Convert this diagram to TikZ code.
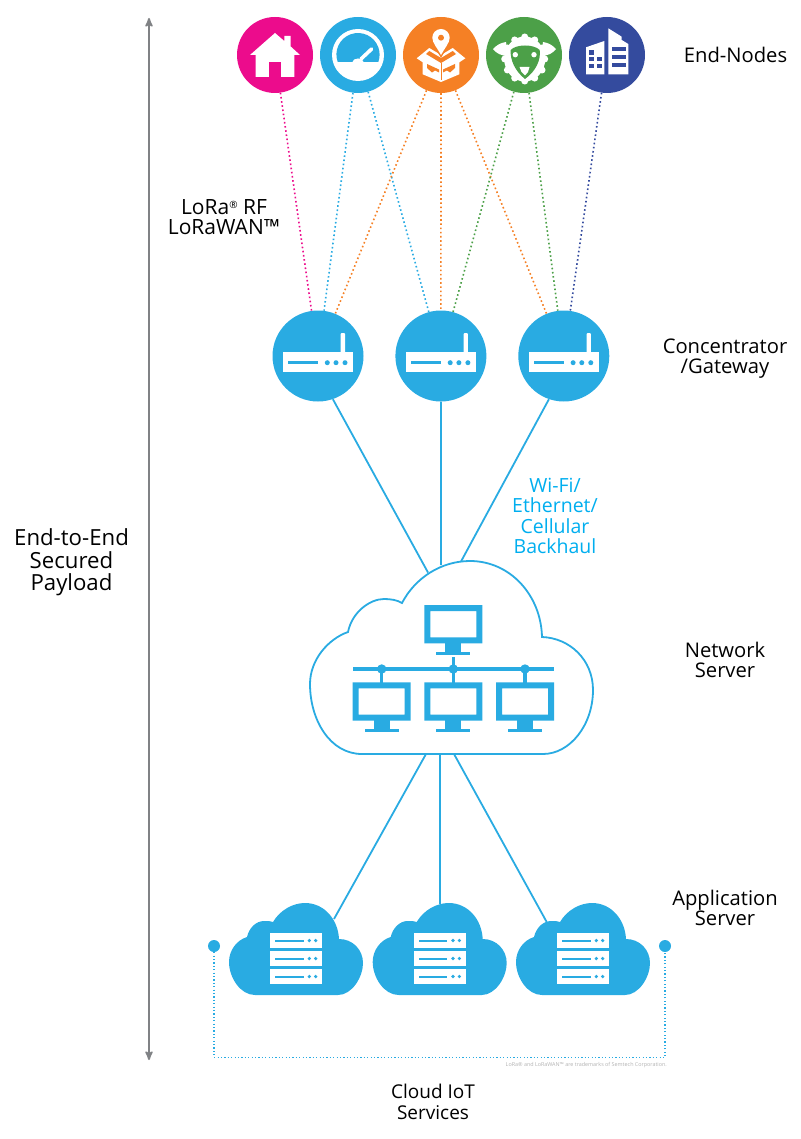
\documentclass[tikz,border=0pt]{standalone}
\usepackage{fontspec}
\setmainfont{Open Sans}
\usetikzlibrary{arrows,positioning}

\definecolor{loraBlue}{HTML}{29ABE2}
\definecolor{loraPink}{HTML}{EC0C8C}
\definecolor{loraOrange}{HTML}{F58025}
\definecolor{loraGreen}{HTML}{4CA048}
\definecolor{loraNavy}{HTML}{344B9E}
\definecolor{loraCyan}{HTML}{00AEEF}
\definecolor{loraGrey}{HTML}{808285}

\tikzset{
  pics/houseicon/.style={code={
    \fill[white] (0,-22) -- (9.3,-14) -- (9.3,-19) -- (15.7,-19) -- (15.7,-8.5) -- (25,0)
      -- (19.3,0) -- (19.3,22) -- (-19.3,22) -- (-19.3,0) -- (-25,0) -- cycle;
    \fill[loraPink] (-6,6.7) rectangle (6,22);
  }},
  pics/gaugeicon/.style={code={
    \fill[white] (0,0) circle (26);
    \fill[loraBlue] (-20.3,7) arc[start angle=160,end angle=380,radius=21.6] -- cycle;
    \draw[white,line width=3.6pt,line cap=round] (3,4) -- (13.6,-6);
    \fill[white] (0,7) ellipse (5.5 and 3.5);
  }},
  pics/parcelicon/.style={code={
    \fill[white] (-24.3,3.3) -- (-11.7,-7) -- (0,0) -- (11.7,-7) -- (24.3,3.3) -- (18.3,7.3)
      -- (18.3,19.3) -- (0,27) -- (-18.3,19.3) -- (-18.3,7.3) -- cycle;
    \fill[loraOrange] (-11.7,-4) -- (0,3) -- (11.7,-4) -- (15,-1) -- (0,8) -- (-15,-1) -- cycle;
    \draw[loraOrange,line width=1pt] (0,8) -- (0,25);
    \fill[loraOrange] (-14,9) -- (-2,14.5) -- (-2,17.5) -- (-6,15.5) -- (-9,17.5) -- (-14,13) -- cycle;
    \fill[loraOrange] (14,9) -- (2,14.5) -- (2,17.5) -- (6,15.5) -- (9,17.5) -- (14,13) -- cycle;
    \fill[loraOrange] (-11.5,-18) arc[start angle=180,end angle=360,radius=11.5]
      .. controls (11.5,-12) and (4,-5) .. (0,3) .. controls (-4,-5) and (-11.5,-12) .. (-11.5,-18) -- cycle;
    \fill[white] (-8.7,-17.3) arc[start angle=180,end angle=360,radius=8.7]
      .. controls (8.7,-12) and (3,-6) .. (0,0) .. controls (-3,-6) and (-8.7,-12) .. (-8.7,-17.3) -- cycle;
    \fill[loraOrange] (0,-17.3) circle (3);
  }},
  pics/sheepicon/.style={code={
    \foreach \ang in {0,30,...,330}
      \fill[white] (0.7,4) ++(\ang:20 and 22) circle (3.5);
    \fill[white] (0.7,4) ellipse (20.5 and 22.5);
    \fill[white] (-31,-6) .. controls (-27,-10) and (-24,-12) .. (-18,-13) -- (-16,1)
      .. controls (-23,1) and (-28,-2) .. (-31,-6) -- cycle;
    \fill[white] (32,-6) .. controls (28,-10) and (25,-12) .. (19,-13) -- (17,1)
      .. controls (24,1) and (29,-2) .. (32,-6) -- cycle;
    \fill[loraGreen] (-13.3,-5) .. controls (-8,-11) and (10,-11) .. (15.7,-5)
      .. controls (17,5) and (12,16) .. (1,24) .. controls (-9,16) and (-14,5) .. (-13.3,-5) -- cycle;
    \fill[white] (-8.7,-0.3) circle (2.7);
    \fill[white] (10,-0.3) circle (2.7);
    \fill[white] (-4.5,12) -- (5.5,12) -- (4,17) -- (1,20.5) -- (-2.5,17) -- cycle;
  }},
  pics/officeicon/.style={code={
    \fill[white] (-21,-7.7) -- (-2.7,-14) -- (-2.7,19.3) -- (-21,19.3) -- cycle;
    \fill[white] (1.3,-26.7) -- (14.7,-18.3) -- (14.7,-15) -- (21.3,-11) -- (21.3,19.3) -- (1.3,19.3) -- cycle;
    \foreach \px/\py in {-17.7/-5,-17.7/1.7,-9.7/1.7,-17.7/8.7,-9.7/8.7}
      \fill[loraNavy] (\px,\py) rectangle ++(4.7,4.7);
    \foreach \py in {-8,0,8.3}
      \fill[loraNavy] (4.7,\py) rectangle ++(14,4);
  }},
  pics/routericon/.style={code={
    \fill[white] (-35.3,-4.3) rectangle (35.3,16);
    \fill[white,rounded corners=1pt] (22.7,-23) rectangle (27,-3);
    \fill[loraBlue] (-30,5.2) rectangle (0,8.2);
    \foreach \px in {9.3,18,27}
      \fill[loraBlue] (\px,6.7) circle (2.5);
  }},
  pics/monitoricon/.style={code={
    \fill[loraBlue,even odd rule] (-29,0) rectangle (29,38.3) (-23,6) rectangle (23,32.3);
    \fill[loraBlue] (-8,38) rectangle (8,47);
    \fill[loraBlue] (-17,46.5) rectangle (17,49.7);
  }},
  pics/rackcloud/.style={code={
    \fill[loraBlue] (-41,0) .. controls (-56,0) and (-67,-18) .. (-67,-33)
      .. controls (-67,-45) and (-59,-55) .. (-49,-58) .. controls (-47,-67) and (-40,-74) .. (-32,-74)
      .. controls (-28,-74) and (-25,-74) .. (-23,-73) .. controls (-16,-85) and (-3,-92) .. (9,-92)
      .. controls (28,-92) and (42,-76) .. (43,-56) .. controls (57,-56) and (67,-45) .. (67,-32)
      .. controls (67,-18) and (56,0) .. (42,0) -- cycle;
    \foreach \py in {-62,-44,-26}{
      \fill[white] (-26,\py) rectangle (26,\py+15);
      \fill[loraBlue] (-21,\py+6.5) rectangle (7.5,\py+8.5);
      \fill[loraBlue] (13.3,\py+7.5) circle (1.8);
      \fill[loraBlue] (19.7,\py+7.5) circle (1.8);
    }
  }}
}

\begin{document}
\begin{tikzpicture}[x=1pt,y=-1pt,node distance=83pt]
  \tikzstyle{endnode}=[circle,minimum size=76pt,inner sep=0pt]
  \tikzstyle{gateway}=[circle,fill=loraBlue,minimum size=91pt,inner sep=0pt]
  \tikzstyle{cloudpoint}=[circle,fill=loraBlue,minimum size=12pt,inner sep=0pt]
  \tikzstyle{caption}=[align=center,font=\fontsize{20.2}{20.3}\selectfont,text=black,inner sep=0pt]
  \tikzstyle{radio}=[line width=1.6pt,dash pattern=on 1.6pt off 2.6pt]
  \tikzstyle{backhaul}=[draw=loraBlue,line width=1.8pt]

  \useasboundingbox (0,0) rectangle (800,1139);

  % end nodes
  \node[endnode,fill=loraPink]                (home)   at (275,55) {};
  \node[endnode,fill=loraBlue,right of=home]  (gauge)  {};
  \node[endnode,fill=loraOrange,right of=gauge] (parcel) {};
  \node[endnode,fill=loraGreen,right of=parcel] (sheep)  {};
  \node[endnode,fill=loraNavy,right of=sheep]   (office) {};

  \pic at (home)   {houseicon};
  \pic at (gauge)  {gaugeicon};
  \pic at (parcel) {parcelicon};
  \pic at (sheep)  {sheepicon};
  \pic at (office) {officeicon};

  % gateways
  \node[gateway]                          (gwA) at (318,356) {};
  \node[gateway,right=31.5pt of gwA]      (gwB) {};
  \node[gateway,right=31.5pt of gwB]      (gwC) {};

  \foreach \gw in {gwA,gwB,gwC}
    \pic at (\gw) {routericon};

  \draw[radio,loraPink]   (home)   -- (gwA);
  \draw[radio,loraBlue]   (gauge)  -- (gwA);
  \draw[radio,loraBlue]   (gauge)  -- (gwB);
  \draw[radio,loraOrange] (parcel) -- (gwA);
  \draw[radio,loraOrange] (parcel) -- (gwB);
  \draw[radio,loraOrange] (parcel) -- (gwC);
  \draw[radio,loraGreen]  (sheep)  -- (gwB);
  \draw[radio,loraGreen]  (sheep)  -- (gwC);
  \draw[radio,loraNavy]   (office) -- (gwC);

  % network server
  \draw[backhaul,fill=white] (362,754) .. controls (330,754) and (310,720) .. (310,684)
    .. controls (310,660) and (328,639) .. (348,632) .. controls (352,612) and (370,599) .. (384,599)
    .. controls (391,599) and (397,600) .. (402,603) .. controls (415,578) and (441,561) .. (470,561)
    .. controls (510,561) and (541,595) .. (542,637) .. controls (570,638) and (593,660) .. (593,690)
    .. controls (593,725) and (570,754) .. (543,754) -- cycle;

  \pic at (453.3,605) {monitoricon};
  \foreach \px in {381.7,453.3,525}{
    \pic at (\px,682.3) {monitoricon};
    \fill[loraBlue] (\px,669) circle (4.7);
    \fill[loraBlue] (\px-1.7,669) rectangle (\px+1.7,683);
  }
  \fill[loraBlue] (352.7,667) rectangle (554,671);
  \fill[loraBlue] (451.6,657.3) rectangle (455,669);

  \coordinate (netTopA) at (428,572.5);
  \coordinate (netTopB) at (441,565);
  \coordinate (netTopC) at (461,561.5);
  \coordinate (netLowA) at (426,754);
  \coordinate (netLowB) at (440,754);
  \coordinate (netLowC) at (454,754);

  \draw[backhaul] (gwA.-71)  -- (netTopA);
  \draw[backhaul] (gwB)      -- (netTopB);
  \draw[backhaul] (gwC.-109) -- (netTopC);

  % application servers
  \pic at (296,995)   {rackcloud};
  \pic at (439.7,995) {rackcloud};
  \pic at (583,995)   {rackcloud};

  \coordinate (appTopA) at (334,919);
  \coordinate (appTopB) at (440,904);
  \coordinate (appTopC) at (546.7,922);

  \draw[backhaul] (netLowA) -- (appTopA);
  \draw[backhaul] (netLowB) -- (appTopB);
  \draw[backhaul] (netLowC) -- (appTopC);

  % cloud services bracket
  \node[cloudpoint] (dotL) at (214,946) {};
  \node[cloudpoint] (dotR) at (665,946) {};
  \coordinate (busL) at (214,1057.5);
  \draw[loraBlue,line width=1.3pt,dash pattern=on 1.2pt off 2.2pt] (dotL) -- (busL) -| (dotR);

  % payload arrow
  \coordinate (payTop) at (149,18);
  \coordinate (payLow) at (149,1060);
  \draw[<->,>=stealth',draw=loraGrey,line width=1.9pt] (payLow) -- (payTop);

  % labels
  \node[caption] (lblNodes)   at (735.5,55)  {End-Nodes};
  \node[caption,font=\fontsize{21}{20.5}\selectfont] (lblRadio) at (224,217)
    {LoRa\raisebox{6pt}{\fontsize{10}{10}\selectfont ®} RF\\LoRaWAN™};
  \node[caption] (lblGateway) at (725,358.5)   {Concentrator\\/Gateway};
  \node[caption,text=loraCyan,font=\fontsize{19.5}{20.5}\selectfont] (lblBackhaul) at (555,516) {Wi-Fi/\\Ethernet/\\Cellular\\Backhaul};
  \node[caption] (lblNet)     at (725,660)   {Network\\Server};
  \node[caption] (lblApp)     at (725,908)   {Application\\Server};
  \node[caption,font=\fontsize{19}{20.3}\selectfont] (lblCloud) at (433,1102) {Cloud IoT\\Services};
  \node[caption,font=\fontsize{22.2}{22.5}\selectfont] (lblPayload) at (71.5,562.5) {End-to-End\\Secured\\Payload};
  \node[anchor=east,inner sep=0pt,text=black!30,font=\fontsize{5.4}{6}\selectfont] (lblMark) at (667,1065)
    {LoRa® and LoRaWAN™ are trademarks of Semtech Corporation.};
\end{tikzpicture}
\end{document}
